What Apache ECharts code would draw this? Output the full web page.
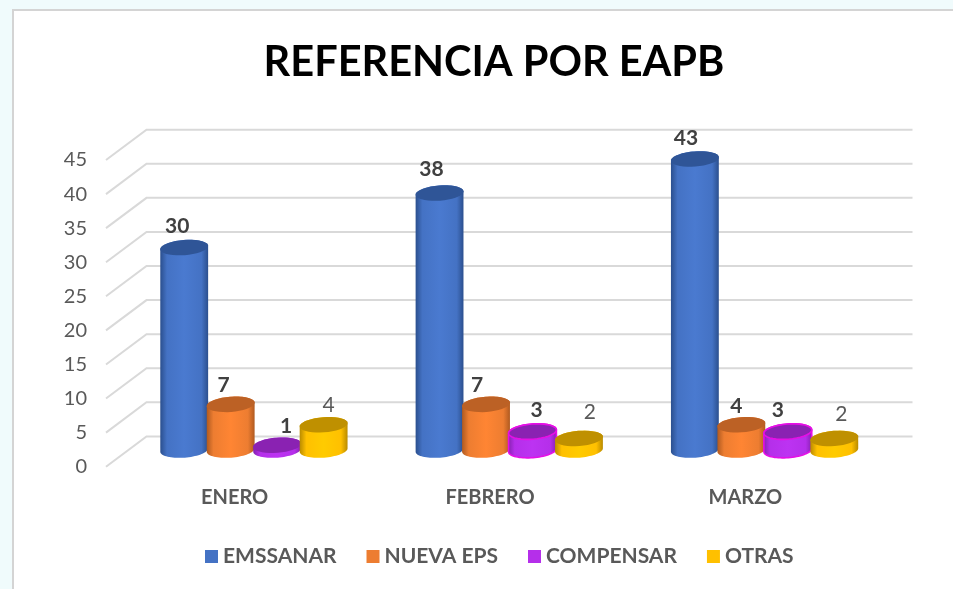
<!DOCTYPE html>
<html>
<head>
<meta charset="utf-8">
<style>html,body{margin:0;padding:0;background:#f0fbfc}#c{width:953px;height:589px}</style>
<script src="https://cdn.jsdelivr.net/npm/echarts@6/dist/echarts.min.js"></script>
</head>
<body>
<div id="c"></div>
<script>
const months = ['ENERO', 'FEBRERO', 'MARZO'];
const yTicks = [0, 5, 10, 15, 20, 25, 30, 35, 40, 45];
const emssanar = [30, 38, 43];
const nuevaEps = [7, 7, 4];
const compensar = [1, 3, 3];
const otras = [4, 2, 2];

const FONT = 'Lato, "Open Sans", sans-serif';
const DEPTH = { x: 40.5, y: -30.3 };
const MID = { x: DEPTH.x / 2, y: DEPTH.y / 2 };
const TILT = -4.5 * Math.PI / 180;

const looks = [
  { name: 'EMSSANAR', values: emssanar, legend: '#4472C4', edge: '#2B4F8E', mid: '#4472C4', light: '#4A7AD0', top: '#2F5597', offset: -0.273,
    nudge: [[-7, -21], [-8, -24], [-9, -21]], bold: [1, 1, 1], line: [0, 0, 0] },
  { name: 'NUEVA EPS', values: nuevaEps, legend: '#ED7D31', edge: '#B05A20', mid: '#ED7D31', light: '#FF8533', top: '#BC6125', offset: -0.091,
    nudge: [[-7, -19], [-9, -19], [-5, -19]], bold: [1, 1, 1], line: [0, 0, 0] },
  { name: 'COMPENSAR', values: compensar, legend: '#B52FEA', edge: '#8320AD', mid: '#B52FEA', light: '#BC33F2', top: '#8A22B2', offset: 0.091,
    nudge: [[9, -19], [4, -21], [-10, -21]], bold: [1, 1, 1], line: [0, 1, 1] },
  { name: 'OTRAS', values: otras, legend: '#FFC000', edge: '#B98B00', mid: '#FFC000', light: '#FFCB00', top: '#BF9000', offset: 0.273,
    nudge: [[5, -20], [11, -26], [7, -24]], bold: [0, 0, 0], line: [0, 0, 0] }
];

function ellipsePoint(cx, cy, rx, ry, t) {
  const c = Math.cos(t), s = Math.sin(t);
  return [cx + rx * c * Math.cos(TILT) - ry * s * Math.sin(TILT),
          cy + rx * c * Math.sin(TILT) + ry * s * Math.cos(TILT)];
}
function arc(cx, cy, rx, ry, from, to) {
  const pts = [];
  for (let i = 0; i <= 36; i++) pts.push(ellipsePoint(cx, cy, rx, ry, from + (to - from) * i / 36));
  return pts;
}

function wallRender(params, api) {
  const r = params.coordSys;
  const p = api.coord([0, api.value(1)]);
  return {
    type: 'polyline', silent: true,
    shape: { points: [[r.x, p[1]], [r.x + DEPTH.x, p[1] + DEPTH.y], [r.x + r.width + DEPTH.x, p[1] + DEPTH.y]] },
    style: { stroke: '#D9D9D9', lineWidth: 2, fill: null }
  };
}

function cylinderRender(look) {
  return function (params, api) {
    const cat = api.value(0), val = api.value(1);
    const band = api.size([1, 0])[0];
    const base = api.coord([cat, 0]), tip = api.coord([cat, val]);
    const cx = base[0] + MID.x + band * look.offset;
    const by = base[1] + MID.y - 1.5, ty = tip[1] + MID.y + 0.5;
    const rx = band * 0.094, ry = 7.6;
    const bodyPts = arc(cx, by, rx, ry, 0, Math.PI).concat(arc(cx, ty, rx, ry, Math.PI, 2 * Math.PI));
    const outlined = look.line[params.dataIndex];
    const n = look.nudge[params.dataIndex];
    const stroke = outlined ? '#E60FE6' : null;
    return {
      type: 'group',
      children: [
        { type: 'polygon', shape: { points: bodyPts },
          style: { stroke, lineWidth: outlined ? 1.6 : 0,
            fill: new echarts.graphic.LinearGradient(0, 0, 1, 0, [
              { offset: 0, color: look.edge }, { offset: 0.14, color: look.mid },
              { offset: 0.5, color: look.light },
              { offset: 0.86, color: look.mid }, { offset: 1, color: look.edge }]) } },
        { type: 'polygon', shape: { points: arc(cx, ty, rx, ry, 0, 2 * Math.PI) },
          style: { fill: look.top, stroke, lineWidth: outlined ? 1.6 : 0 } },
        { type: 'text', x: cx + n[0], y: ty + n[1],
          style: { text: String(val), fill: look.bold[params.dataIndex] ? '#404040' : '#595959',
            font: (look.bold[params.dataIndex] ? 'bold ' : '') + '21px ' + FONT,
            textAlign: 'center', textVerticalAlign: 'middle' } }
      ]
    };
  };
}

const chart = echarts.init(document.getElementById('c'), null, { renderer: 'canvas' });
chart.setOption({
  animation: false,
  backgroundColor: '#f0fbfc',
  graphic: [{ type: 'rect', z: -10, shape: { x: 13, y: 10, width: 960, height: 600 },
    style: { fill: '#ffffff', stroke: '#D4D4D4', lineWidth: 2 } }],
  title: { text: 'REFERENCIA POR EAPB', left: 489, top: 37, textAlign: 'center',
    textStyle: { fontFamily: FONT, fontWeight: 'bold', fontSize: 41.5, color: '#000000' } },
  legend: { data: looks.map(l => l.name), left: 200, top: 541, icon: 'rect', itemWidth: 13, itemHeight: 13,
    itemGap: 30, textStyle: { fontFamily: FONT, fontSize: 21, fontWeight: 'bold', color: '#595959' } },
  grid: { left: 106, top: 160, width: 766, height: 306.7 },
  xAxis: { type: 'category', data: months, axisLine: { show: false }, axisTick: { show: false },
    axisLabel: { margin: 21, fontFamily: FONT, fontSize: 20, fontWeight: 'bold', color: '#595959', padding: [0, 0, 0, 2] } },
  yAxis: { type: 'value', min: 0, max: 45, interval: 5, splitLine: { show: false }, axisLine: { show: false }, axisTick: { show: false },
    axisLabel: { margin: 19, fontFamily: FONT, fontSize: 20, color: '#595959' } },
  series: [{ type: 'custom', name: 'walls', data: yTicks.map(v => [0, v]), renderItem: wallRender, z: 1, silent: true, clip: false }]
    .concat(looks.map((l, i) => ({
      type: 'custom', name: l.name, itemStyle: { color: l.legend }, z: 2 + i, clip: false,
      data: l.values.map((v, c) => [c, v]), encode: { x: 0, y: 1 }, renderItem: cylinderRender(l)
    })))
});
</script>
</body>
</html>
